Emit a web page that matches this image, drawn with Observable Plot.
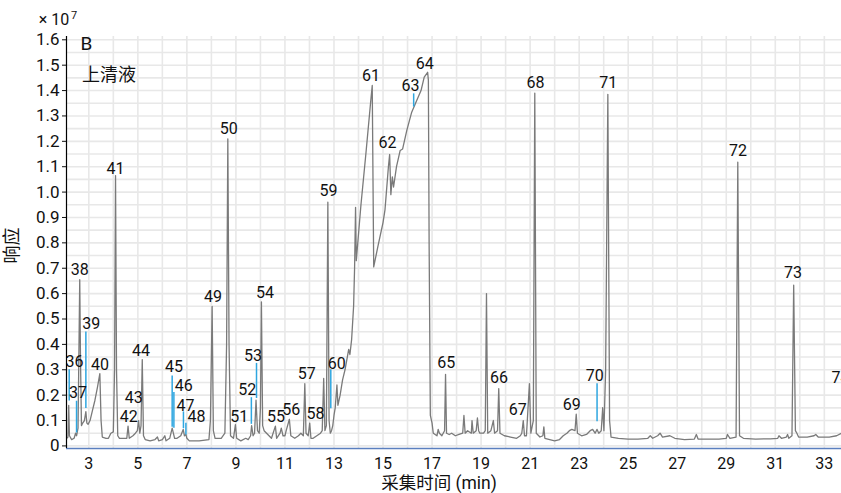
<!DOCTYPE html>
<html>
<head>
<meta charset="utf-8">
<script src="https://cdn.jsdelivr.net/npm/d3@7"></script>
<script src="https://cdn.jsdelivr.net/npm/@observablehq/plot@0.6"></script>
<style>
  html, body { margin: 0; padding: 0; background: #fff; }
  #chart { width: 841px; height: 493px; }
</style>
</head>
<body>
<div id="chart"></div>
<script>
// Chromatogram trace: retention time (min) and response (×10^7)
const traceTime = [
  2.10, 2.15, 2.18, 2.21, 2.30, 2.40, 2.46, 2.50, 2.56, 2.60, 2.63, 2.66, 2.70, 2.75, 2.82, 2.88, 2.92, 2.97,
  3.05, 3.15, 3.25, 3.35, 3.45, 3.50, 3.55, 3.70, 3.80, 3.90, 4.00, 4.05, 4.09, 4.13, 4.18, 4.25, 4.40, 4.55,
  4.60, 4.65, 4.80, 4.90, 4.98, 5.03, 5.08, 5.13, 5.18, 5.23, 5.30, 5.50, 5.70, 5.80, 5.85, 6.00, 6.10, 6.15,
  6.30, 6.40, 6.50, 6.60, 6.75, 6.85, 6.90, 6.96, 7.00, 7.10, 7.50, 7.90, 7.96, 8.03, 8.08, 8.15, 8.40, 8.55,
  8.62, 8.67, 8.72, 8.78, 8.90, 8.98, 9.03, 9.20, 9.40, 9.50, 9.60, 9.64, 9.70, 9.76, 9.82, 9.88, 9.95, 10.00,
  10.04, 10.09, 10.15, 10.25, 10.35, 10.45, 10.61, 10.66, 10.80, 10.85, 10.92, 11.00, 11.05, 11.18, 11.24,
  11.40, 11.55, 11.65, 11.75, 11.81, 11.86, 11.95, 12.01, 12.06, 12.15, 12.30, 12.45, 12.52, 12.58, 12.63,
  12.69, 12.75, 12.80, 12.85, 12.90, 12.95, 13.00, 13.05, 13.12, 13.16, 13.25, 13.35, 13.45, 13.60, 13.65,
  13.72, 13.80, 13.84, 13.88, 13.91, 14.10, 14.30, 14.50, 14.56, 14.62, 14.80, 15.00, 15.08, 15.22, 15.27,
  15.32, 15.38, 15.43, 15.55, 15.70, 15.80, 15.97, 16.17, 16.37, 16.55, 16.68, 16.82, 16.85, 16.88, 16.93,
  17.00, 17.05, 17.20, 17.25, 17.30, 17.40, 17.51, 17.55, 17.59, 17.70, 17.80, 17.95, 18.10, 18.25, 18.30,
  18.35, 18.45, 18.60, 18.63, 18.68, 18.80, 18.85, 18.90, 18.95, 19.10, 19.17, 19.22, 19.27, 19.40, 19.50,
  19.55, 19.67, 19.72, 19.77, 19.95, 20.20, 20.45, 20.60, 20.66, 20.72, 20.77, 20.85, 20.97, 21.03, 21.13,
  21.19, 21.25, 21.40, 21.52, 21.56, 21.60, 21.80, 22.00, 22.20, 22.35, 22.50, 22.60, 22.70, 22.83, 22.88,
  22.93, 23.10, 23.30, 23.45, 23.55, 23.65, 23.73, 23.80, 23.90, 23.96, 24.01, 24.08, 24.17, 24.24, 24.30,
  24.60, 25.00, 25.40, 25.80, 25.90, 26.00, 26.20, 26.30, 26.40, 26.70, 26.90, 27.30, 27.70, 27.78, 27.85,
  28.30, 28.70, 29.00, 29.05, 29.15, 29.40, 29.47, 29.54, 29.70, 30.20, 30.80, 31.10, 31.15, 31.25, 31.45,
  31.50, 31.55, 31.68, 31.75, 31.82, 31.88, 31.95, 32.30, 32.58, 32.65, 32.75, 33.20, 33.50, 33.70
];
const traceResp = [
  0.030, 0.035, 0.160, 0.040, 0.025, 0.030, 0.050, 0.040, 0.070, 0.400, 0.655, 0.350, 0.080, 0.090, 0.100, 0.135, 0.090, 0.085,
  0.100, 0.140, 0.180, 0.230, 0.285, 0.100, 0.035, 0.030, 0.030, 0.050, 0.055, 0.300, 1.065, 0.300, 0.040, 0.030, 0.030, 0.030,
  0.078, 0.030, 0.040, 0.050, 0.060, 0.100, 0.050, 0.080, 0.340, 0.040, 0.025, 0.020, 0.025, 0.035, 0.020, 0.025, 0.040, 0.020,
  0.030, 0.070, 0.030, 0.030, 0.040, 0.065, 0.040, 0.045, 0.030, 0.020, 0.020, 0.025, 0.100, 0.550, 0.060, 0.030, 0.030, 0.050,
  0.400, 1.210, 0.400, 0.040, 0.030, 0.084, 0.030, 0.020, 0.030, 0.025, 0.040, 0.080, 0.040, 0.050, 0.180, 0.060, 0.050, 0.150,
  0.567, 0.080, 0.060, 0.050, 0.040, 0.030, 0.078, 0.030, 0.050, 0.070, 0.040, 0.040, 0.060, 0.105, 0.040,
  0.030, 0.040, 0.050, 0.040, 0.245, 0.050, 0.040, 0.090, 0.030, 0.030, 0.040, 0.050, 0.060, 0.266, 0.060,
  0.080, 0.960, 0.100, 0.050, 0.060, 0.080, 0.120, 0.150, 0.240, 0.160, 0.200, 0.260, 0.300, 0.380, 0.360,
  0.420, 0.550, 0.700, 0.940, 0.730, 0.950, 1.150, 1.360, 1.420, 0.705, 0.790, 0.880, 0.930, 1.100, 1.148,
  0.990, 1.060, 1.020, 1.100, 1.164, 1.170, 1.243, 1.315, 1.360, 1.400, 1.453, 1.472, 1.440, 0.800, 0.120,
  0.090, 0.050, 0.040, 0.065, 0.050, 0.040, 0.060, 0.282, 0.050, 0.045, 0.050, 0.040, 0.045, 0.050, 0.120,
  0.050, 0.060, 0.050, 0.100, 0.050, 0.060, 0.110, 0.060, 0.050, 0.050, 0.060, 0.600, 0.050, 0.060, 0.100,
  0.050, 0.060, 0.226, 0.050, 0.040, 0.035, 0.030, 0.040, 0.050, 0.100, 0.040, 0.040, 0.245, 0.050, 0.100,
  1.390, 0.050, 0.035, 0.040, 0.075, 0.030, 0.025, 0.020, 0.025, 0.040, 0.050, 0.060, 0.065, 0.060, 0.125,
  0.050, 0.040, 0.045, 0.060, 0.065, 0.050, 0.065, 0.050, 0.060, 0.151, 0.060, 0.300, 1.385, 0.100, 0.035,
  0.030, 0.027, 0.027, 0.030, 0.040, 0.030, 0.040, 0.050, 0.035, 0.040, 0.030, 0.025, 0.027, 0.045, 0.027,
  0.027, 0.027, 0.030, 0.045, 0.030, 0.035, 1.118, 0.040, 0.030, 0.027, 0.028, 0.030, 0.040, 0.030, 0.035,
  0.045, 0.030, 0.040, 0.633, 0.060, 0.050, 0.035, 0.035, 0.040, 0.045, 0.035, 0.035, 0.040, 0.050
];

// Peak numbers and where their labels sit (time, response ×10^7)
const peakIds   = ["36","37","38","39","40","41","42","43","44","45","46","47","48","49","50","51","52","53","54","55",
                   "56","57","58","59","60","61","62","63","64","65","66","67","68","69","70","71","72","73","74"];
const peakLabelTime = [2.42, 2.56, 2.63, 3.10, 3.46, 4.09, 4.63, 4.83, 5.13, 6.47, 6.87, 6.94, 7.39, 8.06, 8.71, 9.14, 9.46, 9.70, 10.19, 10.63,
                       11.26, 11.89, 12.25, 12.78, 13.11, 14.51, 15.18, 16.12, 16.70, 17.58, 19.73, 20.49, 21.22, 22.70, 23.64, 24.19, 29.48, 31.72, 33.66];
const peakLabelResp = [0.333, 0.209, 0.695, 0.482, 0.318, 1.091, 0.116, 0.189, 0.373, 0.310, 0.237, 0.157, 0.114, 0.588, 1.249, 0.114, 0.220, 0.354, 0.601, 0.113,
                       0.142, 0.285, 0.127, 1.004, 0.324, 1.458, 1.194, 1.417, 1.504, 0.326, 0.267, 0.143, 1.432, 0.162, 0.275, 1.432, 1.163, 0.680, 0.270];

// Blue marker lines for minor peaks
const markerTime   = [2.20, 2.50, 2.88, 6.40, 6.47, 6.86, 6.96, 9.63, 9.84, 12.87, 16.25, 23.73];
const markerTop    = [0.300, 0.176, 0.449, 0.275, 0.210, 0.134, 0.089, 0.190, 0.325, 0.300, 1.387, 0.245];
const markerBottom = [0.177, 0.051, 0.147, 0.074, 0.070, 0.068, 0.043, 0.085, 0.187, 0.146, 1.335, 0.095];

// Axis ticks
const xTickValues = [3, 5, 7, 9, 11, 13, 15, 17, 19, 21, 23, 25, 27, 29, 31, 33];
const yTickValues = [0, 0.1, 0.2, 0.3, 0.4, 0.5, 0.6, 0.7, 0.8, 0.9, 1.0, 1.1, 1.2, 1.3, 1.4, 1.5, 1.6];
const xGridValues = d3.range(3, 34, 1);
const yGridValues = d3.range(0, 1.601, 0.05);

const xDomain = [2.09, 33.70];
const yDomain = [-0.0102, 1.613];

const trace = traceTime.map((t, i) => ({t, v: traceResp[i]}));
const labels = peakIds.map((id, i) => ({id, t: peakLabelTime[i], v: peakLabelResp[i]}));
const markers = markerTime.map((t, i) => ({t, top: markerTop[i], bottom: markerBottom[i]}));

const font = "Roboto, 'Noto Sans CJK SC', sans-serif";
const centered = {textAnchor: "middle", lineAnchor: "middle", fill: "#111"};

const chart = Plot.plot({
  width: 841,
  height: 493,
  marginLeft: 66,
  marginRight: 0,
  marginTop: 36,
  marginBottom: 45,
  x: {domain: xDomain},
  y: {domain: yDomain},
  style: {fontFamily: font, background: "#fff", color: "#111"},
  marks: [
    Plot.gridX(xGridValues, {stroke: "#e8e8e8", strokeWidth: 1.6, strokeOpacity: 1}),
    Plot.gridY(yGridValues, {stroke: "#e8e8e8", strokeWidth: 1.6, strokeOpacity: 1}),
    Plot.line(trace, {x: "t", y: "v", stroke: "#7a7a7a", strokeWidth: 1.3}),
    Plot.ruleX(markers, {x: "t", y1: "bottom", y2: "top", stroke: "#2ea6e0", strokeWidth: 1.5}),
    Plot.text(labels, {x: "t", y: "v", text: "id", fontSize: 16, ...centered}),
    Plot.ruleY([yDomain[0]], {stroke: "#5b7fbf", strokeWidth: 1.5}),
    Plot.ruleX([xDomain[0]], {stroke: "#000", strokeWidth: 1.2}),
    Plot.axisY(yTickValues, {tickSize: 4, tickPadding: 3, fontSize: 17, label: null,
      tickFormat: d => d === 0 ? "0" : d.toFixed(1)}),
    Plot.axisX(xTickValues, {tickSize: 0, tickPadding: 9, fontSize: 16, label: null}),
    Plot.text(["采集时间 (min)"], {frameAnchor: "bottom", text: d => d, dx: -15, dy: 35, fontSize: 17.5, ...centered}),
    Plot.text(["响应"], {frameAnchor: "left", text: d => d, dx: -54, dy: 3, rotate: -90, fontSize: 18, ...centered}),
    Plot.text(["× 10"], {frameAnchor: "top-left", text: d => d, dx: -12.5, dy: -17, fontSize: 16, ...centered}),
    Plot.text(["7"], {frameAnchor: "top-left", text: d => d, dx: 7.5, dy: -21.5, fontSize: 11, ...centered}),
    Plot.text(["B"], {frameAnchor: "top-left", text: d => d, dx: 20, dy: 7.5, fontSize: 19, ...centered}),
    Plot.text(["上清液"], {frameAnchor: "top-left", text: d => d, dx: 42.5, dy: 39, fontSize: 18, ...centered})
  ]
});
document.getElementById("chart").appendChild(chart);
</script>
</body>
</html>
